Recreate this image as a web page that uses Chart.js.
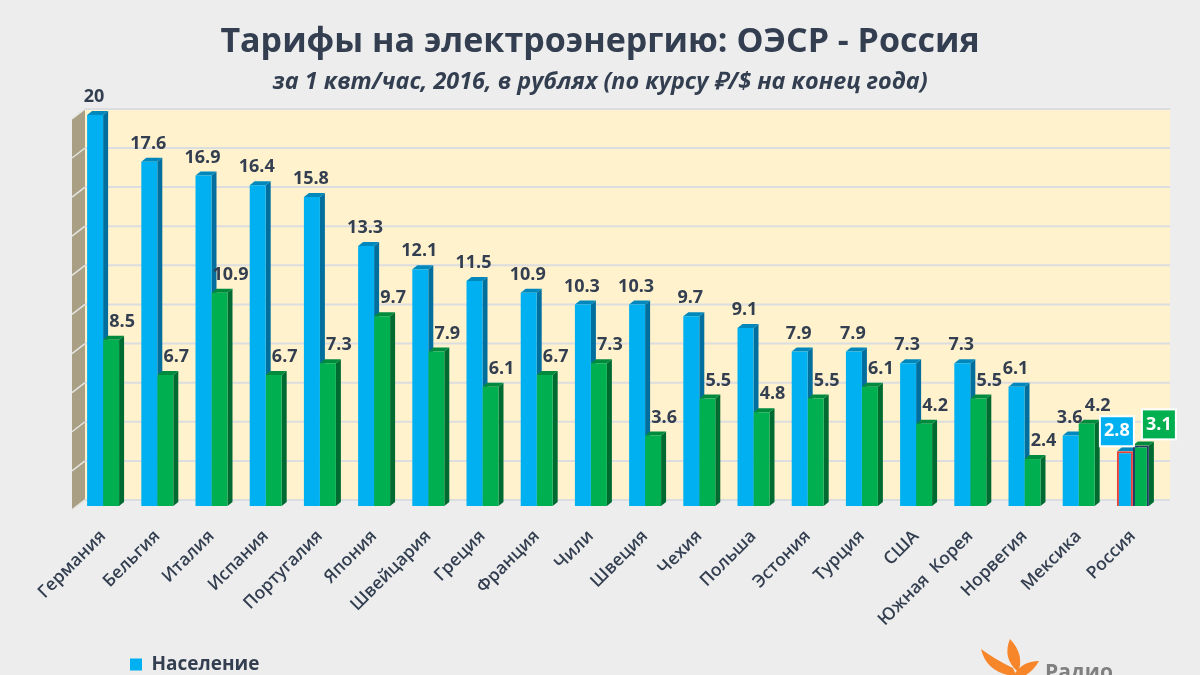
<!DOCTYPE html>
<html lang="ru">
<head>
<meta charset="utf-8">
<title>Тарифы на электроэнергию</title>
<script src="https://cdn.jsdelivr.net/npm/chart.js@4"></script>
<style>
  html, body { margin: 0; padding: 0; background: #ededed; }
  canvas { display: block; }
</style>
</head>
<body>
<canvas id="tariffChart" width="1200" height="675"></canvas>
<script>
const categories = ["Германия", "Бельгия", "Италия", "Испания", "Португалия", "Япония", "Швейцария", "Греция", "Франция", "Чили", "Швеция", "Чехия", "Польша", "Эстония", "Турция", "США", "Южная  Корея", "Норвегия", "Мексика", "Россия"];
const population = [20, 17.6, 16.9, 16.4, 15.8, 13.3, 12.1, 11.5, 10.9, 10.3, 10.3, 9.7, 9.1, 7.9, 7.9, 7.3, 7.3, 6.1, 3.6, 2.8];
const industry = [8.5, 6.7, 10.9, 6.7, 7.3, 9.7, 7.9, 6.1, 6.7, 7.3, 3.6, 5.5, 4.8, 5.5, 6.1, 4.2, 5.5, 2.4, 4.2, 3.1];

const TEXT = "#333f50";
const BLUE = { front: "#00b0f0", side: "#006f9e", top: "#0088bd" };
const GREEN = { front: "#00b050", side: "#006b30", top: "#008a3e" };
const DEPTH_X = 5, DEPTH_Y = 4;
const WALL_X = 13, WALL_Y = 6;
const last = categories.length - 1;

function poly(ctx, pts, color) {
  ctx.fillStyle = color;
  ctx.beginPath();
  pts.forEach((p, i) => (i ? ctx.lineTo(p[0], p[1]) : ctx.moveTo(p[0], p[1])));
  ctx.closePath();
  ctx.fill();
}

// back plane, wall and grid sit behind the bars
const backdrop = {
  id: "backdrop",
  afterLayout(chart) {
    chart.legend.left = 126;
    chart.legend.top = 651;
  },
  beforeDatasetsDraw(chart) {
    const ctx = chart.ctx;
    const area = chart.chartArea;
    const y = chart.scales.y;
    const wallL = area.left - 4;
    const wallR = wallL + WALL_X;
    const backR = area.right + 10;
    ctx.fillStyle = "#fff2cc";
    ctx.fillRect(wallR, area.top - WALL_Y, backR - wallR, area.bottom - area.top);

    poly(ctx, [[wallL, area.top + 4], [wallR, area.top - WALL_Y], [wallR, area.bottom - WALL_Y - 1], [wallL, area.bottom + 3]], "#a89f85");

    y.ticks.forEach((t) => {
      const py = y.getPixelForValue(t.value);
      ctx.strokeStyle = "#dcdde0";
      ctx.lineWidth = 2;
      ctx.beginPath();
      ctx.moveTo(wallR, py - WALL_Y);
      ctx.lineTo(backR, py - WALL_Y);
      ctx.stroke();
      ctx.strokeStyle = "#e4e4e0";
      ctx.lineWidth = 1.5;
      ctx.beginPath();
      ctx.moveTo(wallL, py + 4);
      ctx.lineTo(wallR, py - WALL_Y);
      ctx.stroke();
    });

    // side and top faces, blue first so green overlaps it
    [BLUE, GREEN].forEach((c, d) => {
      chart.getDatasetMeta(d).data.forEach((bar) => {
        const x1 = bar.x - bar.width / 2;
        const x2 = bar.x + bar.width / 2;
        poly(ctx, [[x2, bar.y], [x2 + DEPTH_X, bar.y - DEPTH_Y], [x2 + DEPTH_X, bar.base - DEPTH_Y], [x2, bar.base]], c.side);
        poly(ctx, [[x1, bar.y], [x1 + DEPTH_X, bar.y - DEPTH_Y], [x2 + DEPTH_X, bar.y - DEPTH_Y], [x2, bar.y]], c.top);
      });
    });
  },
};

// value labels, Russia gets a filled box
const valueLabels = {
  id: "valueLabels",
  afterDatasetsDraw(chart) {
    const ctx = chart.ctx;
    ctx.save();
    ctx.font = "bold 18px 'Open Sans'";
    ctx.textAlign = "center";
    ctx.textBaseline = "middle";
    [population, industry].forEach((values, d) => {
      chart.getDatasetMeta(d).data.forEach((bar, i) => {
        if (i === last) return;
        ctx.fillStyle = TEXT;
        ctx.fillText(values[i], bar.x + (d ? 11 : -1), bar.y - 18);
      });
    });

    const boxes = [[0, population, BLUE.front, -8, -20], [1, industry, GREEN.front, 18, -21]];
    boxes.forEach(([d, values, color, dx, dy]) => {
      const bar = chart.getDatasetMeta(d).data[last];
      const cx = bar.x + dx, cy = bar.y + dy;
      ctx.fillStyle = color;
      ctx.strokeStyle = "#ffffff";
      ctx.lineWidth = 2;
      ctx.fillRect(cx - 17, cy - 15, 34, 30);
      ctx.strokeRect(cx - 17, cy - 15, 34, 30);
      ctx.fillStyle = "#ffffff";
      ctx.fillText(values[last], cx, cy);
    });
    ctx.restore();
  },
};

// station logo, cut by the bottom edge like in the original
const logo = {
  id: "logo",
  afterDraw(chart) {
    const ctx = chart.ctx;
    ctx.save();
    ctx.fillStyle = "#f7862a";
    ctx.beginPath();
    ctx.moveTo(981, 649);
    ctx.quadraticCurveTo(996, 660, 1013, 668);
    ctx.lineTo(1016, 675);
    ctx.lineTo(1008, 675);
    ctx.quadraticCurveTo(986, 670, 981, 649);
    ctx.fill();
    ctx.beginPath();
    ctx.moveTo(1010, 639);
    ctx.quadraticCurveTo(1025, 655, 1018, 672);
    ctx.quadraticCurveTo(1002, 658, 1010, 639);
    ctx.fill();
    ctx.beginPath();
    ctx.moveTo(1039, 661);
    ctx.quadraticCurveTo(1022, 661, 1014, 675);
    ctx.lineTo(1026, 675);
    ctx.quadraticCurveTo(1034, 670, 1039, 661);
    ctx.fill();
    ctx.fillStyle = "#808080";
    ctx.font = "bold 21px 'Open Sans'";
    ctx.textBaseline = "alphabetic";
    ctx.fillText("Радио", 1045, 679);
    ctx.restore();
  },
};

const bgFill = {
  id: "bgFill",
  beforeDraw(chart) {
    chart.ctx.fillStyle = "#ededed";
    chart.ctx.fillRect(0, 0, chart.width, chart.height);
  },
};

new Chart(document.getElementById("tariffChart").getContext("2d"), {
  type: "bar",
  data: {
    labels: categories,
    datasets: [
      {
        label: "Население",
        data: population,
        backgroundColor: BLUE.front,
        borderColor: (c) => (c.dataIndex === last ? "#e8403a" : BLUE.front),
        borderWidth: (c) => (c.dataIndex === last ? 2 : 0),
      },
      {
        label: "Промышленность",
        data: industry,
        backgroundColor: GREEN.front,
        borderColor: (c) => (c.dataIndex === last ? "#1f3864" : GREEN.front),
        borderWidth: (c) => (c.dataIndex === last ? 2 : 0),
      },
    ],
  },
  options: {
    responsive: false,
    animation: false,
    layout: { padding: { left: 40, right: 40, top: 22, bottom: 0 } },
    datasets: { bar: { barPercentage: 1, categoryPercentage: 0.59 } },
    scales: {
      x: {
        grid: { display: false },
        border: { display: false },
        afterFit(scale) { scale.height = 136; },
        ticks: {
          autoSkip: false,
          maxRotation: 45,
          minRotation: 45,
          padding: 12,
          color: TEXT,
          font: { family: "'Open Sans'", size: 17.5, weight: "600" },
        },
      },
      y: {
        min: 0,
        max: 20,
        grid: { display: false },
        border: { display: false },
        ticks: { stepSize: 2, display: false },
        afterFit(scale) { scale.width = 36; },
      },
    },
    plugins: {
      title: {
        display: true,
        text: "Тарифы на электроэнергию: ОЭСР - Россия",
        color: TEXT,
        font: { family: "'Open Sans'", size: 34, weight: "bold" },
        padding: { top: 0, bottom: 6 },
      },
      subtitle: {
        display: true,
        text: "за 1 квт/час, 2016, в рублях (по курсу ₽/$ на конец года)",
        color: TEXT,
        font: { family: "'Open Sans'", size: 23.4, weight: "bold", style: "italic" },
        padding: { top: 0, bottom: 18 },
      },
      legend: {
        position: "bottom",
        align: "start",
        labels: {
          filter: (item) => item.datasetIndex === 0,
          boxWidth: 12,
          boxHeight: 12,
          padding: 4,
          color: TEXT,
          font: { family: "'Open Sans'", size: 19, weight: "bold" },
        },
      },
      tooltip: { enabled: false },
    },
  },
  plugins: [bgFill, backdrop, valueLabels, logo],
});
</script>
</body>
</html>
